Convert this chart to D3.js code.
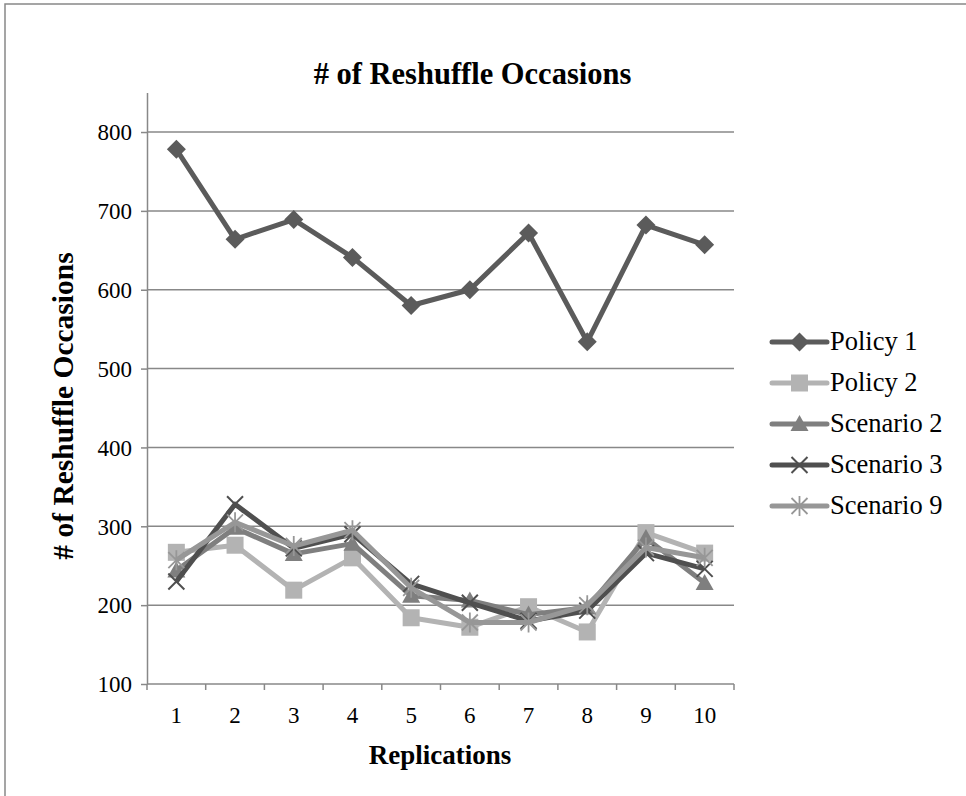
<!DOCTYPE html>
<html>
<head>
<meta charset="utf-8">
<script src="https://cdn.jsdelivr.net/npm/d3@7"></script>
<style>
  html, body { margin: 0; padding: 0; background: #fff; }
  svg { display: block; }
</style>
</head>
<body>
<svg id="chart" width="966" height="796"></svg>
<script>
// Replication numbers on the category axis
const replications = [1, 2, 3, 4, 5, 6, 7, 8, 9, 10];

// Number of reshuffle occasions per replication, one array per series
const policy1   = [778, 664, 689, 641, 580, 600, 672, 534, 682, 657];
const policy2   = [267, 276, 219, 260, 184, 172, 198, 166, 292, 266];
const scenario2 = [244, 298, 265, 278, 212, 206, 188, 197, 285, 228];
const scenario3 = [230, 328, 272, 290, 227, 203, 180, 193, 266, 246];
const scenario9 = [257, 305, 275, 295, 222, 178, 178, 200, 273, 260];

const seriesNames = ["Policy 1", "Policy 2", "Scenario 2", "Scenario 3", "Scenario 9"];
const yTicks = [100, 200, 300, 400, 500, 600, 700, 800];

const seriesValues = [policy1, policy2, scenario2, scenario3, scenario9];
const seriesColors = ["#5b5b5b", "#b3b3b3", "#7f7f7f", "#4f4f4f", "#979797"];
const seriesMarkers = ["diamond", "square", "triangle", "cross", "asterisk"];

const svg = d3.select("#chart");
const font = "'Liberation Serif', 'Times New Roman', serif";
const axisColor = "#888888";

// Outer chart frame
svg.append("rect")
  .attr("x", 5).attr("y", 4)
  .attr("width", 980).attr("height", 820)
  .attr("fill", "none").attr("stroke", axisColor).attr("stroke-width", 1.5);

const plot = { left: 147, right: 734, top: 92.6, bottom: 684 };

const x = d3.scaleBand().domain(replications).range([plot.left, plot.right]).padding(0);
const y = d3.scaleLinear().domain([100, 850]).range([plot.bottom, plot.top]);
const cx = d => x(d) + x.bandwidth() / 2;

// Horizontal gridlines
svg.append("g").selectAll("line")
  .data(yTicks.filter(t => t > 100))
  .join("line")
  .attr("x1", plot.left).attr("x2", plot.right)
  .attr("y1", d => y(d)).attr("y2", d => y(d))
  .attr("stroke", axisColor).attr("stroke-width", 1.5);

// Value axis
const yAxis = svg.append("g")
  .attr("transform", `translate(${plot.left},0)`)
  .call(d3.axisLeft(y).tickValues(yTicks).tickSize(6).tickPadding(9).tickSizeOuter(0));
yAxis.select(".domain").attr("stroke", axisColor).attr("stroke-width", 1.5);
yAxis.selectAll(".tick line").attr("stroke", axisColor).attr("stroke-width", 1.5);
yAxis.selectAll(".tick text")
  .attr("fill", "#000").attr("font-family", font).attr("font-size", 23)
  .attr("dy", "0.34em");

// Category axis with tick marks between categories
const xAxis = svg.append("g")
  .attr("transform", `translate(0,${plot.bottom})`)
  .call(d3.axisBottom(x).tickSize(0).tickPadding(23));
xAxis.select(".domain").remove();
xAxis.append("line")
  .attr("x1", plot.left).attr("x2", plot.right)
  .attr("stroke", axisColor).attr("stroke-width", 1.5);
xAxis.selectAll(".boundary")
  .data(replications.concat([null]))
  .join("line")
  .attr("class", "boundary")
  .attr("x1", (d, i) => i < replications.length ? x(d) : plot.right)
  .attr("x2", (d, i) => i < replications.length ? x(d) : plot.right)
  .attr("y1", 0).attr("y2", 6)
  .attr("stroke", axisColor).attr("stroke-width", 1.5);
xAxis.selectAll(".tick text")
  .attr("fill", "#000").attr("font-family", font).attr("font-size", 23);

// Titles
svg.append("text")
  .attr("x", 472.5).attr("y", 84)
  .attr("text-anchor", "middle")
  .attr("font-family", font).attr("font-size", 30.5).attr("font-weight", "bold")
  .text("# of Reshuffle Occasions");

svg.append("text")
  .attr("transform", "translate(73,406) rotate(-90)")
  .attr("text-anchor", "middle")
  .attr("font-family", font).attr("font-size", 29.5).attr("font-weight", "bold")
  .text("# of Reshuffle Occasions");

svg.append("text")
  .attr("x", 440).attr("y", 764)
  .attr("text-anchor", "middle")
  .attr("font-family", font).attr("font-size", 27).attr("font-weight", "bold")
  .text("Replications");

// Marker drawing
function drawMarker(g, type, color) {
  if (type === "diamond") {
    g.append("path").attr("d", "M0,-9.5L9.5,0L0,9.5L-9.5,0Z").attr("fill", color);
  } else if (type === "square") {
    g.append("rect").attr("x", -8.5).attr("y", -8.5).attr("width", 17).attr("height", 17).attr("fill", color);
  } else if (type === "triangle") {
    g.append("path").attr("d", "M0,-9L9,7L-9,7Z").attr("fill", color);
  } else if (type === "cross") {
    g.append("path").attr("d", "M-8,-8L8,8M-8,8L8,-8")
      .attr("stroke", color).attr("stroke-width", 2).attr("fill", "none");
  } else if (type === "asterisk") {
    g.append("path").attr("d", "M-8,-8L8,8M-8,8L8,-8M0,-10L0,10")
      .attr("stroke", color).attr("stroke-width", 1.8).attr("fill", "none");
  }
}

const line = d3.line().x((d, i) => cx(replications[i])).y(d => y(d));

seriesValues.forEach((vals, s) => {
  const g = svg.append("g");
  g.append("path")
    .attr("d", line(vals))
    .attr("fill", "none")
    .attr("stroke", seriesColors[s])
    .attr("stroke-width", 5)
    .attr("stroke-linejoin", "round");
  vals.forEach((v, i) => {
    const m = g.append("g").attr("transform", `translate(${cx(replications[i])},${y(v)})`);
    drawMarker(m, seriesMarkers[s], seriesColors[s]);
  });
});

// Legend
const legend = svg.append("g");
seriesNames.forEach((name, s) => {
  const ly = 342 + s * 41;
  const row = legend.append("g");
  row.append("line")
    .attr("x1", 772).attr("x2", 827).attr("y1", ly).attr("y2", ly)
    .attr("stroke", seriesColors[s]).attr("stroke-width", 5).attr("stroke-linecap", "round");
  drawMarker(row.append("g").attr("transform", `translate(799.5,${ly})`), seriesMarkers[s], seriesColors[s]);
  row.append("text")
    .attr("x", 830).attr("y", ly + 8)
    .attr("font-family", font).attr("font-size", 26.5)
    .text(name);
});
</script>
</body>
</html>
